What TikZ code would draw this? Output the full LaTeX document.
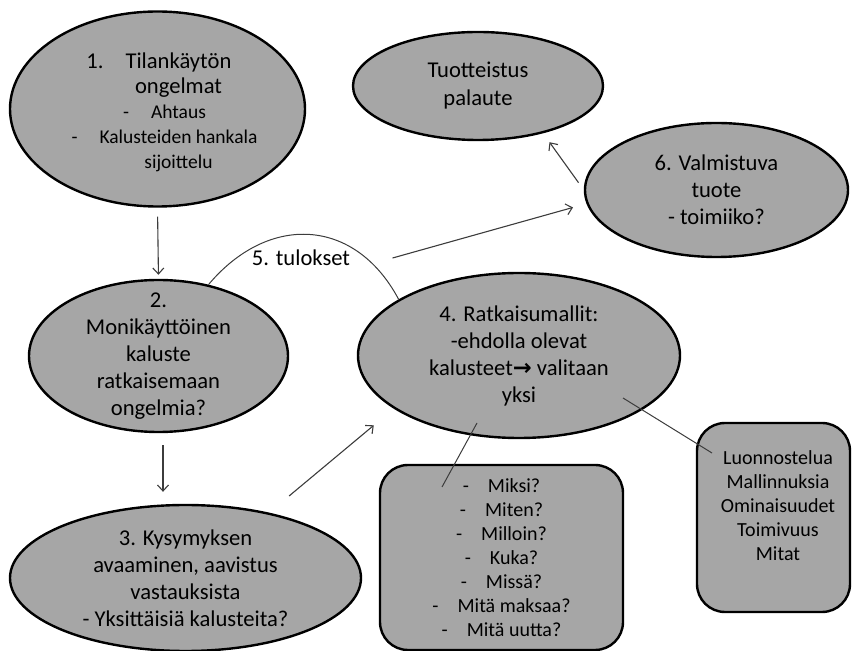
\documentclass[tikz,border=0pt]{standalone}
\usepackage{fontspec}
\setmainfont{Carlito}
\newfontfamily\arrowfont{DejaVu Sans}
\usepackage{tikz}
\usetikzlibrary{arrows.meta}
\usetikzlibrary{calc}
\usetikzlibrary{shapes.geometric}

\definecolor{blobgray}{RGB}{166,166,166}
\definecolor{linkgray}{RGB}{60,60,60}
\newcommand{\listdash}{-\hspace{19pt}}
\newcommand{\subitemfont}{\fontsize{19.5}{25}\selectfont}

\begin{document}
\begin{tikzpicture}[x=1pt,y=1pt,
		blob/.style={ellipse,draw,line width=2.4pt,fill=blobgray,inner sep=0pt,align=center,font=\fontsize{22.6}{27}\selectfont},
		card/.style={rectangle,rounded corners=28pt,draw,line width=2.4pt,fill=blobgray,align=center,font=\fontsize{20}{24}\selectfont},
		flow/.style={draw=linkgray,line width=1.1pt,-{Straight Barb[length=6pt,width=11pt]}},
		link/.style={draw=linkgray,line width=1pt}]
		\useasboundingbox (0,0) rectangle (852,651);

		\node [blob,minimum width=295pt,minimum height=195pt,
			label={[align=center,font=\fontsize{22.6}{25}\selectfont,xshift=21pt,yshift=-3.5pt]center:{\llap{1.\hspace{22pt}}Tilankäytön\\ongelmat\\{\subitemfont\llap{-\hspace{22pt}}Ahtaus}\\{\subitemfont\llap{-\hspace{22pt}}Kalusteiden hankala}\\{\subitemfont sijoittelu}}}] (problem) at (157.5,542) {};
		\node [blob,minimum width=259pt,minimum height=152pt,inner ysep=-12pt] (furniture) at (158.5,295) {2.\\Monikäyttöinen\\kaluste\\ratkaisemaan\\ongelmia?};
		\node [blob,minimum width=351pt,minimum height=146pt] (questions) at (185.5,73) {3. Kysymyksen\\avaaminen, aavistus\\vastauksista\\- Yksittäisiä kalusteita?};
		\node [blob,minimum width=322pt,minimum height=165pt] (solutions) at (519,295.5) {4. Ratkaisumallit:\\-ehdolla olevat\\kalusteet{\arrowfont\bfseries →} valitaan\\yksi};
		\node [blob,minimum width=250pt,minimum height=108pt,font=\fontsize{22.6}{28}\selectfont] (feedback) at (478,565) {Tuotteistus\\palaute};
		\node [blob,minimum width=263pt,minimum height=134pt] (product) at (716.5,461) {6. Valmistuva\\tuote\\- toimiiko?};
		\node [card,minimum width=243pt,minimum height=185pt] (asks) at (501.5,93.5) {\listdash Miksi?\\\listdash Miten?\\\listdash Milloin?\\\listdash Kuka?\\\listdash Missä?\\\listdash Mitä maksaa?\\\listdash Mitä uutta?};
		\node [card,minimum width=153pt,minimum height=189pt,
			label={[align=center,font=\fontsize{20}{24}\selectfont,xshift=4.5pt,yshift=11.5pt]center:{Luonnostelua\\Mallinnuksia\\Ominaisuudet\\Toimivuus\\Mitat}}] (design) at (773.5,133.5) {};
		\node [font=\fontsize{22.6}{27}\selectfont] (results) at (301,393) {5. tulokset};

		\draw [flow,shorten <=9pt,shorten >=4pt] (problem.south) -- (furniture.north);
		\draw [flow,shorten <=12pt,shorten >=12pt] ([xshift=4.5pt]furniture.south) -- ([xshift=4.5pt]furniture.south |- questions.north);
		\draw [flow,shorten <=26pt,shorten >=26pt] (questions.38) -- (solutions.203);
		\draw [link] (furniture.55) to [out=50,in=118,looseness=1.25] (solutions.155);
		\draw [flow,shorten >=14pt] ([xshift=39pt]results.east) -- (product.186);
		\draw [flow,shorten <=9pt,shorten >=11pt] (product.west) -- (feedback.324);
		\draw [link] ([shift={(-42pt,-67.5pt)}]solutions.center) -- ([shift={(-59.5pt,70.5pt)}]asks.center);
		\draw [link] ([shift={(104pt,-42.5pt)}]solutions.center) -- ([shift={(-61.5pt,64.5pt)}]design.center);
	\end{tikzpicture}
\end{document}
